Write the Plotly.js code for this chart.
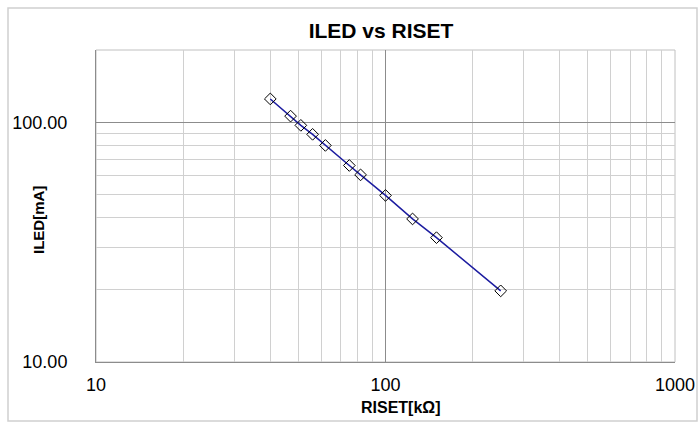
<!DOCTYPE html>
<html>
<head>
<meta charset="utf-8">
<script src="https://cdn.plot.ly/plotly-3.0.1.min.js"></script>
<style>html,body{margin:0;padding:0;background:#fff;}#chart{width:698px;height:424px;}</style>
</head>
<body>
<div id="chart"></div>
<script>
// Data
const risetKOhm = [40, 47, 51, 56, 62, 75, 82, 100, 124, 150, 250];
const iledMA    = [125, 106, 97, 89, 80, 66, 60.3, 49.5, 39.5, 33, 19.8];

const chartTitle = 'ILED vs RISET';
const xTitle = 'RISET[kΩ]';
const yTitle = 'ILED[mA]';

const FONT = 'Liberation Sans, Arial, sans-serif';
const MAJOR = '#8c8c8c';
const MINOR = '#d0d0d0';

const trace = {
  x: risetKOhm,
  y: iledMA,
  type: 'scatter',
  mode: 'lines+markers',
  line: {color: '#1c1ca0', width: 1.5},
  marker: {symbol: 'diamond-open', size: 9, color: '#000000', line: {width: 1, color: '#000000'}},
  hoverinfo: 'x+y'
};

const layout = {
  width: 698, height: 424,
  margin: {l: 96, r: 23, t: 50, b: 62},
  paper_bgcolor: '#ffffff', plot_bgcolor: '#ffffff',
  showlegend: false,
  font: {family: FONT, color: '#000000'},
  title: {
    text: '<b>' + chartTitle + '</b>',
    font: {family: FONT, size: 21, color: '#000000'},
    x: (381-96)/579, xref: 'paper', xanchor: 'center',
    y: 1 - 31/424, yref: 'container', yanchor: 'middle'
  },
  xaxis: {
    type: 'log', range: [1, 3], dtick: 1,
    showgrid: true, gridcolor: MAJOR, gridwidth: 1,
    minor: {dtick: 'D1', showgrid: true, gridcolor: MINOR, gridwidth: 1, ticks: ''},
    showline: true, linecolor: MAJOR, linewidth: 1, mirror: false,
    ticks: '', ticklabelstandoff: 6,
    tickfont: {family: FONT, size: 18, color: '#000000'},
    zeroline: false
  },
  yaxis: {
    type: 'log', range: [1, Math.log10(200)], dtick: 1, tickformat: '.2f',
    showgrid: true, gridcolor: MAJOR, gridwidth: 1,
    minor: {dtick: 'D1', showgrid: true, gridcolor: MINOR, gridwidth: 1, ticks: ''},
    showline: true, linecolor: MAJOR, linewidth: 1, mirror: false,
    ticks: '', ticklabelstandoff: 24,
    tickfont: {family: FONT, size: 18, color: '#000000'},
    zeroline: false
  },
  annotations: [
    {text: '<b>' + xTitle + '</b>', xref: 'paper', yref: 'paper',
     x: (401-96)/579, y: (362-407)/312, xanchor: 'center', yanchor: 'middle',
     showarrow: false, font: {family: FONT, size: 16, color: '#000000'}},
    {text: '<b>' + yTitle + '</b>', xref: 'paper', yref: 'paper',
     x: (38-96)/579, y: (362-220)/312, xanchor: 'center', yanchor: 'middle',
     textangle: -90, showarrow: false, font: {family: FONT, size: 15, color: '#000000'}}
  ],
  shapes: [
    {type: 'rect', xref: 'paper', yref: 'paper', x0: 0, x1: 1, y0: 0, y1: 1,
     line: {color: '#c0c0c0', width: 1}, layer: 'below'},
    {type: 'rect', xref: 'paper', yref: 'paper',
     x0: (8-96)/579, x1: (697-96)/579, y0: (362-421)/312, y1: (362-8)/312,
     line: {color: '#d0d0d0', width: 1.5}, layer: 'below'}
  ]
};

Plotly.newPlot('chart', [trace], layout, {displayModeBar: false, staticPlot: true});
</script>
</body>
</html>
